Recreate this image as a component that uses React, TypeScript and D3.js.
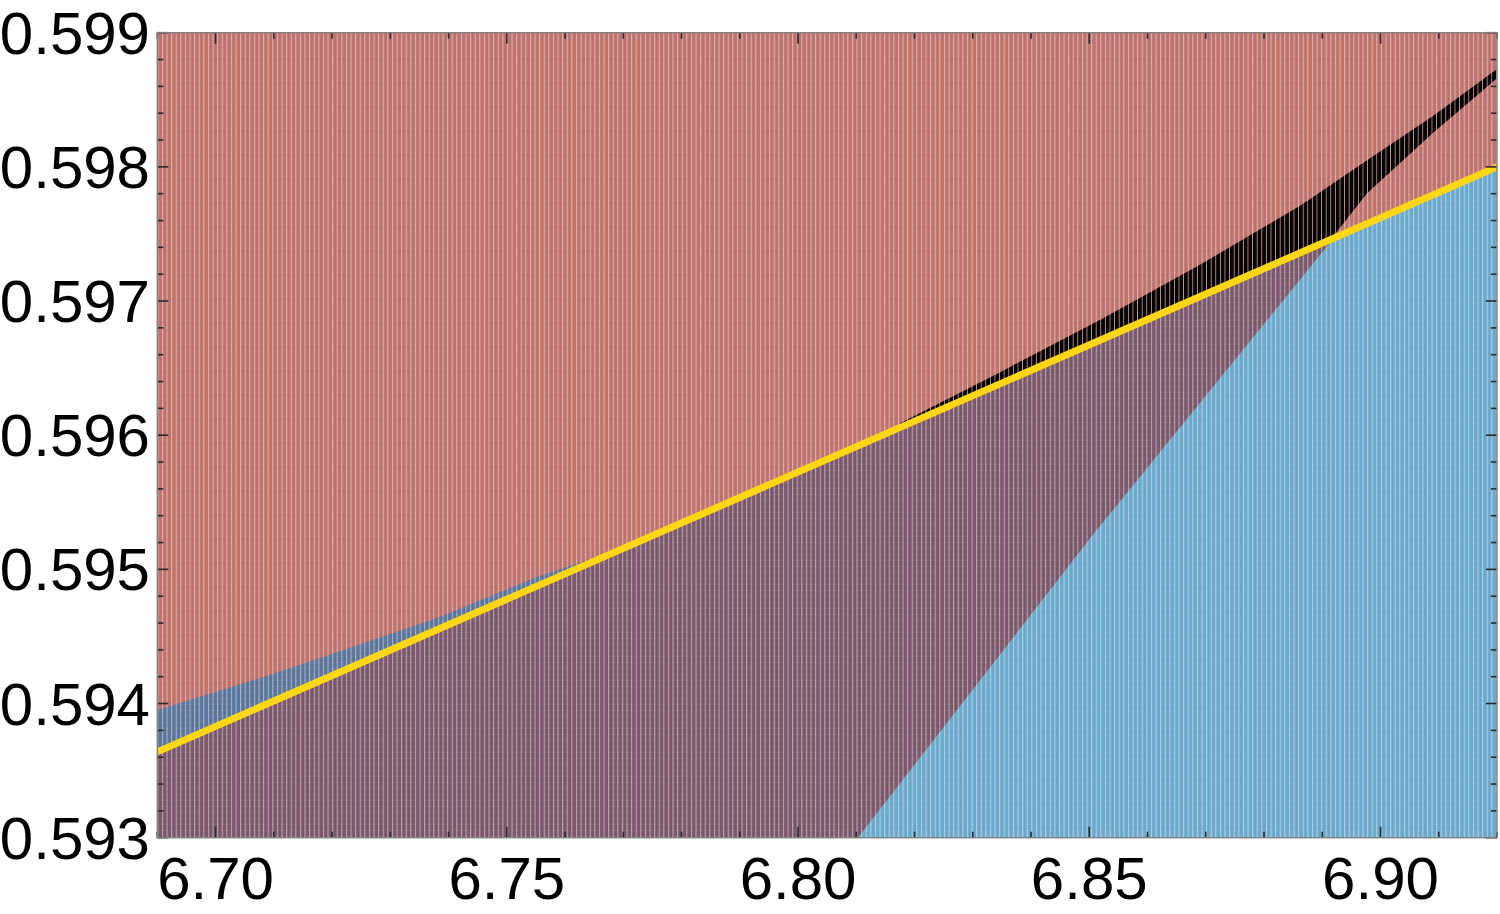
import React from "react";
import * as d3 from "d3";

// ---- data ----
const xDomain = [6.69, 6.92];
const yDomain = [0.593, 0.599];
const xMajorTicks = [6.7, 6.75, 6.8, 6.85, 6.9];
const yMajorTicks = [0.593, 0.594, 0.595, 0.596, 0.597, 0.598, 0.599];

// yellow reference line
const yellowLine: [number, number][] = [
  [6.69, 0.59364],
  [6.92, 0.598],
];

// steel-blue strip above the yellow line (upper boundary, then back along the line)
const steelRegion: [number, number][] = [
  [6.69, 0.593952],
  [6.70933, 0.594213],
  [6.738, 0.594638],
  [6.75517, 0.594943],
  [6.7665, 0.595108],
  [6.772, 0.59519],
  [6.69, 0.59364],
];

// steep red/blue boundary (bottom to the yellow line)
const steepBoundary: [number, number][] = [
  [6.81029, 0.593],
  [6.8505, 0.59525],
  [6.892, 0.59747],
];

// black wedge: upper edge, then lower edge (right to left)
const blackUpper: [number, number][] = [
  [6.8175, 0.59609],
  [6.8347, 0.59647],
  [6.8519, 0.59686],
  [6.869, 0.59727],
  [6.8862, 0.59771],
  [6.8977, 0.59805],
  [6.909, 0.59838],
  [6.92, 0.59873],
];
const blackLower: [number, number][] = [
  [6.92, 0.59866],
  [6.909, 0.598252],
  [6.8977, 0.597804],
  [6.8913, 0.59745],
  [6.8175, 0.59606],
];

// ---- colours ----
const RED = "#bf716b";
const PURPLE = "#7a576a";
const STEEL = "#5b749a";
const LIGHTBLUE = "#6aa9cc";
const YELLOW = "#ffd714";

const L = 157.3, R = 1497, T = 32.7, B = 837.7;

export default function App() {
  const x = d3.scaleLinear().domain(xDomain).range([L, R]);
  const y = d3.scaleLinear().domain(yDomain).range([B, T]);
  const poly = (pts: [number, number][]) =>
    d3.line<[number, number]>().x((d) => x(d[0])).y((d) => y(d[1]))(pts) + "Z";

  const purpleRegion: [number, number][] = [
    [xDomain[0], yDomain[0]],
    yellowLine[0],
    ...steepBoundary.slice().reverse(),
  ];
  const blueRegion: [number, number][] = [
    ...steepBoundary,
    yellowLine[1],
    [xDomain[1], yDomain[0]],
  ];
  const blackRegion = [...blackUpper, ...blackLower];

  const xMinor = x.ticks(23);
  const yMinor = y.ticks(30);
  const isMajor = (v: number, arr: number[]) => arr.some((a) => Math.abs(a - v) < 1e-9);

  const font = "'Liberation Sans', Arial, Helvetica, sans-serif";
  const tickStroke = "#2a2a2a";

  return (
    <svg
      width={1500}
      height={914}
      style={{ position: "absolute", left: 0, top: 0, background: "#fff" }}
    >
      <defs>
        <clipPath id="plotClip">
          <rect x={L} y={T} width={R - L} height={B - T} />
        </clipPath>
        <pattern id="stripes" x={L} y={0} width={4.6} height={6} patternUnits="userSpaceOnUse">
          <rect x={0} y={0} width={1.1} height={6} fill="#ffffff" opacity={0.45} />
          <rect x={0} y={2} width={1.1} height={1} fill="#ffffff" opacity={0.25} />
        </pattern>
        <pattern id="blackCols" x={L} y={0} width={4.6} height={10} patternUnits="userSpaceOnUse">
          <rect x={0.8} y={0} width={3.8} height={10} fill="#030303" />
        </pattern>
      </defs>

      <g clipPath="url(#plotClip)">
        <rect x={L} y={T} width={R - L} height={B - T} fill={RED} />
        <path d={poly(steelRegion)} fill={STEEL} />
        <path d={poly(purpleRegion)} fill={PURPLE} />
        <path d={poly(blueRegion)} fill={LIGHTBLUE} />
        <rect x={L} y={T} width={R - L} height={B - T} fill="url(#stripes)" />
        <path d={poly(blackRegion)} fill="url(#blackCols)" />
        <line
          x1={x(yellowLine[0][0])}
          y1={y(yellowLine[0][1])}
          x2={x(yellowLine[1][0])}
          y2={y(yellowLine[1][1])}
          stroke={YELLOW}
          strokeWidth={7}
        />
      </g>

      {/* ticks on all four sides */}
      <g stroke={tickStroke} strokeWidth={1.6}>
        {xMinor.map((v, i) => {
          const len = isMajor(v, xMajorTicks) ? 11 : 6;
          return (
            <g key={"xt" + i}>
              <line x1={x(v)} x2={x(v)} y1={B} y2={B - len} />
              <line x1={x(v)} x2={x(v)} y1={T} y2={T + len} />
            </g>
          );
        })}
        {yMinor.map((v, i) => {
          const len = isMajor(v, yMajorTicks) ? 11 : 6;
          return (
            <g key={"yt" + i}>
              <line x1={L} x2={L + len} y1={y(v)} y2={y(v)} />
              <line x1={R} x2={R - len} y1={y(v)} y2={y(v)} />
            </g>
          );
        })}
      </g>

      {/* frame */}
      <rect x={L} y={T} width={R - L} height={B - T} fill="none" stroke="#808080" strokeWidth={1.4} />

      {/* labels */}
      <g fontFamily={font} fontSize={60} fill="#000">
        {xMajorTicks.map((v, i) => (
          <text key={"xl" + i} x={x(v)} y={899} textAnchor="middle">
            {d3.format(".2f")(v)}
          </text>
        ))}
        {yMajorTicks.map((v, i) => (
          <text key={"yl" + i} x={150} y={y(v)} dy="0.35em" textAnchor="end">
            {d3.format(".3f")(v)}
          </text>
        ))}
      </g>
    </svg>
  );
}
